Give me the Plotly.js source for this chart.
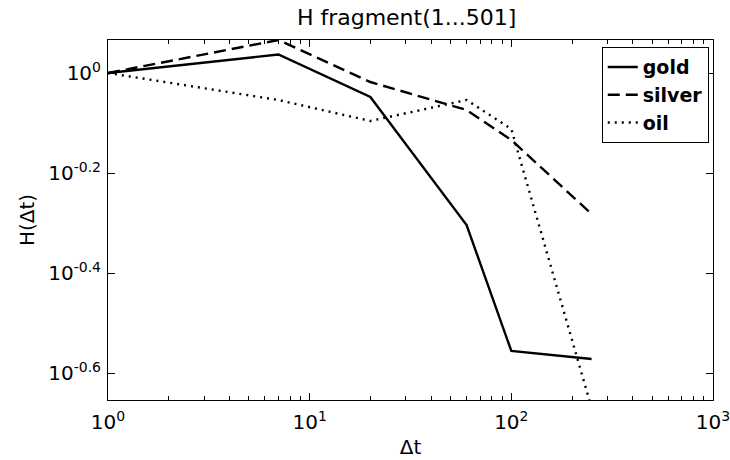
<!DOCTYPE html>
<html>
<head>
<meta charset="utf-8">
<script src="https://cdn.plot.ly/plotly-3.0.1.min.js"></script>
<style>html,body{margin:0;padding:0;background:#fff;}#chart{width:730px;height:460px;}</style>
</head>
<body>
<div id="chart"></div>
<script>
// Data (log10 of H values)
const dt = [1, 7, 20, 60, 100, 250];
const goldLog = [0, 0.037, -0.048, -0.304, -0.556, -0.572];
const silverLog = [0, 0.066, -0.018, -0.074, -0.134, -0.282];
const oilLog = [0, -0.054, -0.096, -0.054, -0.112, -0.67];
const seriesNames = ['gold', 'silver', 'oil'];
const xTickVals = [1, 10, 100, 1000];
const xTickText = ['10<sup>0</sup>', '10<sup>1</sup>', '10<sup>2</sup>', '10<sup>3</sup>'];
const yTickExp = [0, -0.2, -0.4, -0.6];
const yTickText = ['10<sup>0</sup>', '10<sup>-0.2</sup>', '10<sup>-0.4</sup>', '10<sup>-0.6</sup>'];

const toVal = a => a.map(v => Math.pow(10, v));
const minorVals = [];
[1, 10, 100].forEach(d => { for (let k = 2; k <= 9; k++) minorVals.push(k * d); });

const font = 'DejaVu Sans, Arial, sans-serif';
const traces = [
  {x: dt, y: toVal(goldLog), name: seriesNames[0], mode: 'lines', line: {color: '#000', width: 2.4, dash: 'solid'}},
  {x: dt, y: toVal(silverLog), name: seriesNames[1], mode: 'lines', line: {color: '#000', width: 2.4, dash: '12px,6px'}},
  {x: dt, y: toVal(oilLog), name: seriesNames[2], mode: 'lines', line: {color: '#000', width: 2.4, dash: '2px,5px'}},
  {x: [], y: [], xaxis: 'x2', yaxis: 'y', showlegend: false, hoverinfo: 'skip', mode: 'lines'},
  {x: [], y: [], xaxis: 'x3', yaxis: 'y', showlegend: false, hoverinfo: 'skip', mode: 'lines'}
];
const minorAxis = side => ({
  type: 'log', range: [0, 3], overlaying: 'x', anchor: 'y', side: side,
  tickmode: 'array', tickvals: minorVals, showticklabels: false,
  ticks: 'inside', ticklen: 4, tickcolor: '#000', tickwidth: 1,
  showline: false, showgrid: false, zeroline: false
});
const layout = {
  width: 730, height: 460,
  margin: {l: 108, r: 17, t: 40, b: 60},
  paper_bgcolor: '#fff', plot_bgcolor: '#fff',
  showlegend: true,
  title: {text: 'H fragment(1...501]', font: {family: font, size: 22, color: '#000'}, x: 0.557, xanchor: 'center', y: 0.963, yanchor: 'middle'},
  xaxis: {
    type: 'log', range: [0, 3],
    tickmode: 'array', tickvals: xTickVals, ticktext: xTickText,
    ticks: 'inside', ticklen: 7, tickcolor: '#000', tickwidth: 1,
    showline: true, linecolor: '#000', linewidth: 1, mirror: 'ticks',
    showgrid: false, zeroline: false,
    tickfont: {family: font, size: 20, color: '#000'},
    ticklabelstandoff: 4, ticklabeloverflow: 'allow',
    title: {text: 'Δt', font: {family: font, size: 20, color: '#000'}, standoff: 6}
  },
  xaxis2: minorAxis('bottom'),
  xaxis3: minorAxis('top'),
  yaxis: {
    type: 'log', range: [-0.654, 0.066],
    tickmode: 'array', tickvals: toVal(yTickExp), ticktext: yTickText,
    ticks: 'inside', ticklen: 7, tickcolor: '#000', tickwidth: 1,
    showline: true, linecolor: '#000', linewidth: 1, mirror: 'ticks',
    showgrid: false, zeroline: false,
    tickfont: {family: font, size: 20, color: '#000'},
    ticklabelstandoff: 2,
    title: {text: 'H(Δt)', font: {family: font, size: 20, color: '#000'}, standoff: 8}
  },
  legend: {
    x: 0.993, xanchor: 'right', y: 0.98, yanchor: 'top',
    bordercolor: '#000', borderwidth: 1, bgcolor: '#fff',
    font: {family: 'DejaVu Sans, Arial, sans-serif', size: 19, color: '#000', weight: 'bold'},
    tracegroupgap: 0, itemwidth: 30
  }
};
Plotly.newPlot('chart', traces, layout, {staticPlot: true, displayModeBar: false});
</script>
</body>
</html>
